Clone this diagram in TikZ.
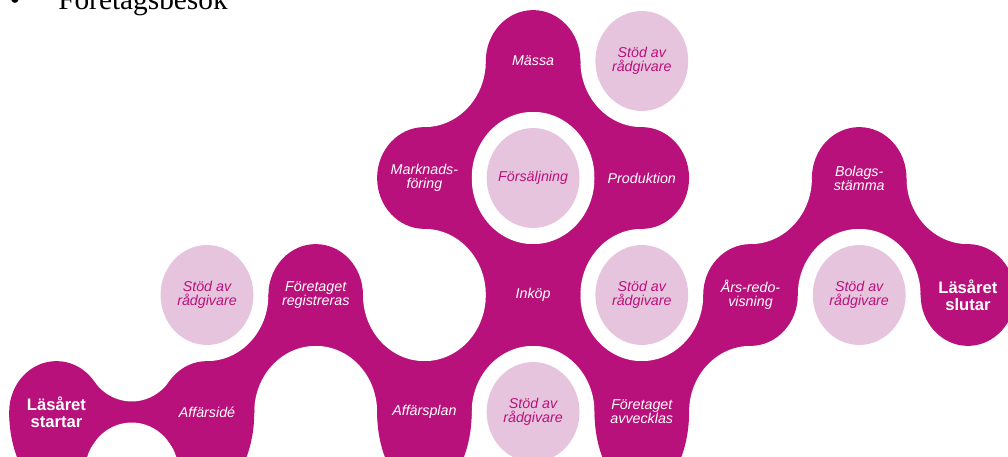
\documentclass[tikz,border=0pt]{standalone}
\usepackage{fontspec}
\setmainfont{Liberation Serif}
\setsansfont{Liberation Sans}
\definecolor{mag}{RGB}{185,17,123}
\definecolor{lpink}{RGB}{231,196,221}
\begin{document}
\begin{tikzpicture}[x=81.525pt,y=87.75pt,
  lbl/.style={text=white,font=\sffamily\itshape\fontsize{10.7}{10.5}\selectfont,align=center},
  lblb/.style={text=white,font=\sffamily\bfseries\fontsize{12.45}{13}\selectfont,align=center},
  stod/.style={text=mag,font=\sffamily\itshape\fontsize{10.7}{10.5}\selectfont,align=center},
  blob/.style={fill=mag},
  hole/.style={fill=white},
  light/.style={fill=lpink}]
\useasboundingbox (-0.90433,-0.38462) rectangle (8.36891,3.52137);
\clip (-0.90433,-0.38462) rectangle (8.36891,3.52137);
\def\rn{0.435}
\def\rh{0.565}
\def\rl{0.427}
% links between diagonal neighbours (unit cells)
\foreach \a/\b in {1/0,2/0,3/0,3/1,3/2,4/2,4/1,4/0,5/0,6/1,7/1}
  \fill[blob] (\a,\b) rectangle ++(1,1);
% neck between start node and Affarside
\fill[blob] (-0.385,0) -- (0.3075,0.5226) -- (1,0) -- (0.3075,-0.5226) -- cycle;
% lower extensions of the bottom row
\begin{scope}
  \clip (-1,-1) rectangle (9,0);
  \foreach \c in {-0.385,1,3,5}
    \fill[blob] (\c,0) ellipse [x radius=\rn, y radius=0.7];
\end{scope}
% holes
\foreach \p in {(1,1),(2,0),(3,1),(4,0),(4,2),(3,3),(5,3),(5,1),(6,0),(6,2),(7,1),(8,2)}
  \fill[hole] \p circle (\rh);
\fill[hole] (0.3075,0.5226) circle (0.4326);
\fill[hole] (0.3075,-0.5226) circle (0.4326);
% node disks
\foreach \p in {(-0.385,0),(1,0),(2,1),(3,0),(4,1),(3,2),(4,3),(5,2),(5,0),(6,1),(7,2),(8,1)}
  \fill[blob] \p circle (\rn);
% light circles
\foreach \p in {(1,1),(4,2),(5,3),(5,1),(4,0),(7,1)}
  \fill[light] \p circle (\rl);
% labels
\node[lblb] (ls) at (-0.385,0) {Läsåret\\startar};
\node[lbl] (ai) at (1,0) {Affärsidé};
\node[lbl] (fr) at (2,1) {Företaget\\registreras};
\node[lbl] (ap) at (3,0) {Affärsplan};
\node[lbl] (ik) at (4,1) {Inköp};
\node[lbl] (mf) at (3,2) {Marknads-\\föring};
\node[lbl] (ms) at (4,3) {Mässa};
\node[lbl] (pr) at (5,2) {Produktion};
\node[lbl] (fa) at (5,0) {Företaget\\avvecklas};
\node[lbl] (ar) at (6,1) {Års-redo-\\visning};
\node[lbl] (bs) at (7,2) {Bolags-\\stämma};
\node[lblb] (le) at (8,1) {Läsåret\\slutar};
\node[stod] (s1) at (1,1) {Stöd av\\rådgivare};
\node[stod] (fs) at (4,2) {Försäljning};
\node[stod] (s2) at (5,3) {Stöd av\\rådgivare};
\node[stod] (s3) at (5,1) {Stöd av\\rådgivare};
\node[stod] (s4) at (4,0) {Stöd av\\rådgivare};
\node[stod] (s5) at (7,1) {Stöd av\\rådgivare};
% cut-off bullet line at the top
\node[anchor=base,inner sep=0,font=\fontsize{22}{24}\selectfont] (bul) at (-0.7663,3.4419) {•};
\node[anchor=base west,inner sep=0,font=\fontsize{22}{24}\selectfont] (fb) at (-0.3707,3.4419) {Företagsbesök};
\end{tikzpicture}
\end{document}
